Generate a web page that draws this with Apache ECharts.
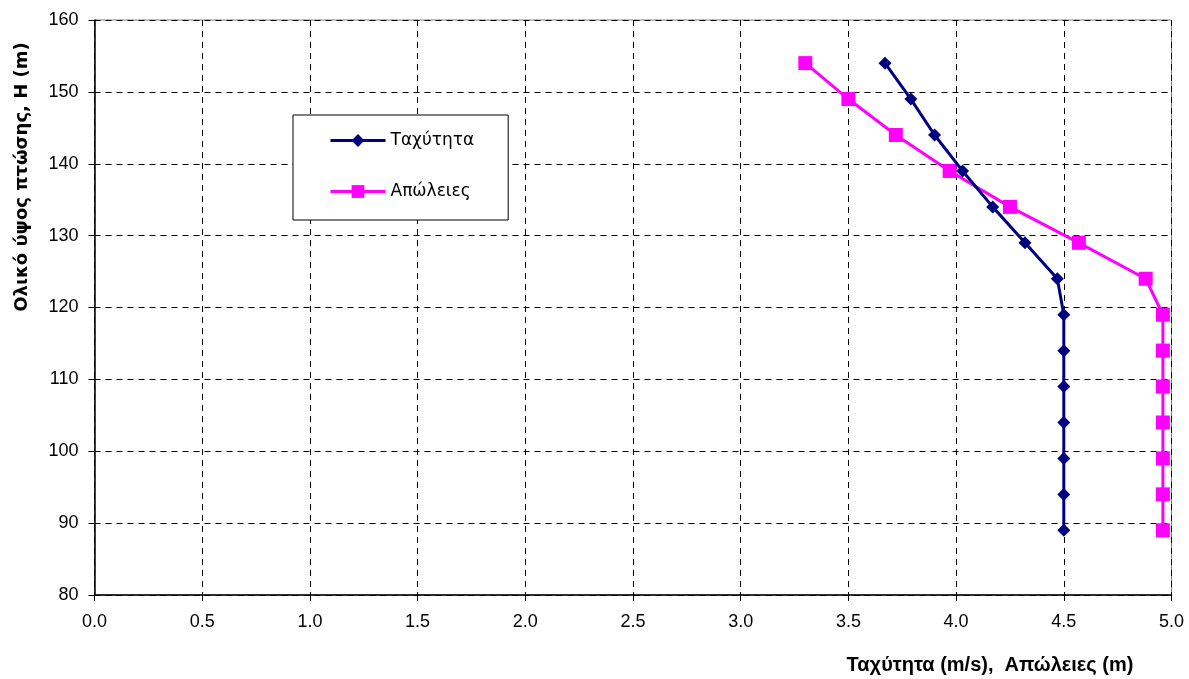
<!DOCTYPE html>
<html>
<head>
<meta charset="utf-8">
<script src="https://cdn.jsdelivr.net/npm/echarts@6/dist/echarts.min.js"></script>
<style>html,body{margin:0;padding:0;background:#fff;}#c{width:1189px;height:679px;}</style>
</head>
<body>
<div id="c"></div>
<script>
const heights = [154, 149, 144, 139, 134, 129, 124, 119, 114, 109, 104, 99, 94, 89];
const velocity = [3.67, 3.79, 3.90, 4.03, 4.17, 4.32, 4.47, 4.50, 4.50, 4.50, 4.50, 4.50, 4.50, 4.50];
const losses = [3.30, 3.50, 3.72, 3.97, 4.25, 4.57, 4.88, 4.96, 4.96, 4.96, 4.96, 4.96, 4.96, 4.96];
const seriesNames = ['Ταχύτητα', 'Απώλειες'];
const xTitle = 'Ταχύτητα (m/s),  Απώλειες (m)';
const yTitle = 'Ολικό ύψος πτώσης, H (m)';

const font = 'Liberation Sans, Arial, sans-serif';
const chart = echarts.init(document.getElementById('c'), null, {renderer: 'canvas'});
chart.setOption({
  animation: false,
  backgroundColor: '#fff',
  grid: {left: 94.5, right: 17.5, top: 20, bottom: 84, show: true, borderColor: '#808080', borderWidth: 1},
  xAxis: {
    type: 'value', min: 0, max: 5, interval: 0.5,
    axisLine: {show: true, onZero: false, lineStyle: {color: '#000', width: 1.5}},
    axisTick: {show: true, inside: false, length: 6, lineStyle: {color: '#000'}},
    axisLabel: {color: '#000', fontSize: 18, fontFamily: font, margin: 18, formatter: v => v.toFixed(1)},
    splitLine: {show: true, lineStyle: {color: '#000', type: [6, 5], width: 1}}
  },
  yAxis: {
    type: 'value', min: 80, max: 160, interval: 10,
    axisLine: {show: true, onZero: false, lineStyle: {color: '#000', width: 1.5}},
    axisTick: {show: true, length: 6, lineStyle: {color: '#000'}},
    axisLabel: {color: '#000', fontSize: 18, fontFamily: font, margin: 16},
    splitLine: {show: true, lineStyle: {color: '#000', type: [6, 5], width: 1}}
  },
  legend: {
    left: 293, top: 115, orient: 'vertical',
    backgroundColor: '#fff', borderColor: '#000', borderWidth: 1,
    padding: [17, 34, 20, 36], itemGap: 34, itemWidth: 55, itemHeight: 16,
    lineStyle: {width: 3},
    textStyle: {fontSize: 17, fontFamily: 'DejaVu Sans, sans-serif', color: '#000'},
    data: seriesNames
  },
  graphic: [
    {type: 'text', id: 'yt', x: 22, y: 177, rotation: Math.PI / 2,
     style: {text: yTitle, font: 'bold 18px DejaVu Sans, sans-serif', fill: '#000', align: 'center', verticalAlign: 'middle'}},
    {type: 'text', id: 'xt', x: 990, y: 665,
     style: {text: xTitle, font: 'bold 20px ' + font, fill: '#000', align: 'center', verticalAlign: 'middle'}}
  ],
  series: [
    {name: seriesNames[0], type: 'line', data: velocity.map((v, i) => [v, heights[i]]),
     symbol: 'diamond', symbolSize: 13, color: '#000080',
     lineStyle: {width: 3, color: '#000080'}, itemStyle: {color: '#000080'}, z: 3},
    {name: seriesNames[1], type: 'line', data: losses.map((v, i) => [v, heights[i]]),
     symbol: 'rect', symbolSize: 14, color: '#FF00FF',
     lineStyle: {width: 3, color: '#FF00FF'}, itemStyle: {color: '#FF00FF'}, z: 2}
  ]
});
</script>
</body>
</html>
